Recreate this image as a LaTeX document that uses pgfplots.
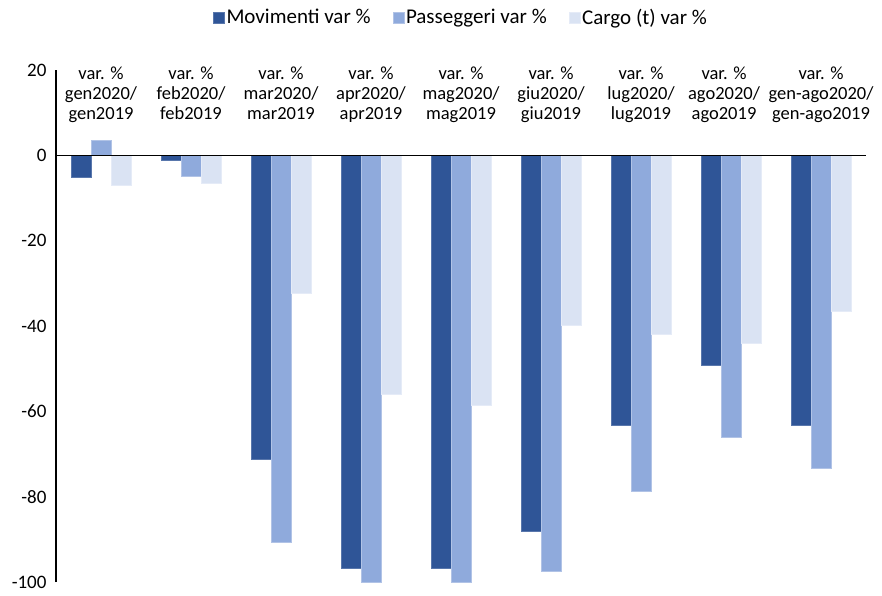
\documentclass[border=0pt]{standalone}
\usepackage{pgfplots}
\pgfplotsset{compat=1.18}
\usepackage{fontspec}
\setmainfont{Carlito}
\definecolor{mov}{HTML}{2F5597}
\definecolor{pas}{HTML}{8FAADC}
\definecolor{car}{HTML}{DAE3F3}
\begin{document}
\begin{tikzpicture}
\begin{axis}[
  name=ax,
  scale only axis,
  width=810pt, height=512pt,
  xmin=-0.5, xmax=8.5,
  ymin=-100, ymax=20,
  ytick={-100,-80,...,20},
  xtick={0,...,8},
  xticklabels={
    {var. \%\\gen2020/\\gen2019},
    {var. \%\\feb2020/\\feb2019},
    {var. \%\\mar2020/\\mar2019},
    {var. \%\\apr2020/\\apr2019},
    {var. \%\\mag2020/\\mag2019},
    {var. \%\\giu2020/\\giu2019},
    {var. \%\\lug2020/\\lug2019},
    {var. \%\\ago2020/\\ago2019},
    {var. \%\\gen-ago2020/\\gen-ago2019}},
  separate axis lines,
  axis x line*=top,
  axis y line*=left,
  x axis line style={draw=none},
  y axis line style={-, black, line width=1.2pt},
  major tick length=0pt,
  xticklabel style={anchor=north, yshift=7pt, align=center,
    xshift={(\ticknum==7)*(-7)},
    font=\fontsize{18.5}{20}\selectfont},
  yticklabel style={font=\fontsize{19}{20}\selectfont, xshift=-6pt},
  /pgf/number format/assume math mode=true,
  ybar=0pt,
  bar width=20pt,
  clip=false,
  legend style={at={(0.5,1)}, anchor=south, yshift=40pt, draw=none,
    font=\fontsize{21}{22}\selectfont, legend columns=-1,
    /tikz/every even column/.append style={column sep=20pt}},
  legend image code/.code={\fill[#1] (0pt,-5.5pt) rectangle (11pt,5.5pt);},
]
\addplot[fill=mov, draw=mov!80!white, line width=0.4pt] coordinates {
  (0,-5.1) (1,-1.2) (2,-71.3) (3,-96.8) (4,-96.8)
  (5,-88.0) (6,-63.3) (7,-49.2) (8,-63.3)};
\addplot[fill=pas, draw=pas!70!white, line width=0.4pt] coordinates {
  (0,3.5) (1,-5.0) (2,-90.7) (3,-100) (4,-100)
  (5,-97.4) (6,-78.7) (7,-66.0) (8,-73.3)};
\addplot[fill=car, draw=car!70!white, line width=0.4pt] coordinates {
  (0,-7.0) (1,-6.5) (2,-32.4) (3,-55.9) (4,-58.5)
  (5,-39.9) (6,-41.9) (7,-44.0) (8,-36.5)};
\legend{Movimenti var \%, Passeggeri var \%, Cargo (t) var \%}
\draw[black, line width=1.2pt] (axis cs:-0.5,0) -- (axis cs:8.5,0);
\end{axis}
\pgfresetboundingbox
\path ([xshift=-56pt,yshift=-13pt]ax.south west) rectangle ([xshift=16pt,yshift=70pt]ax.north east);
\end{tikzpicture}
\end{document}
